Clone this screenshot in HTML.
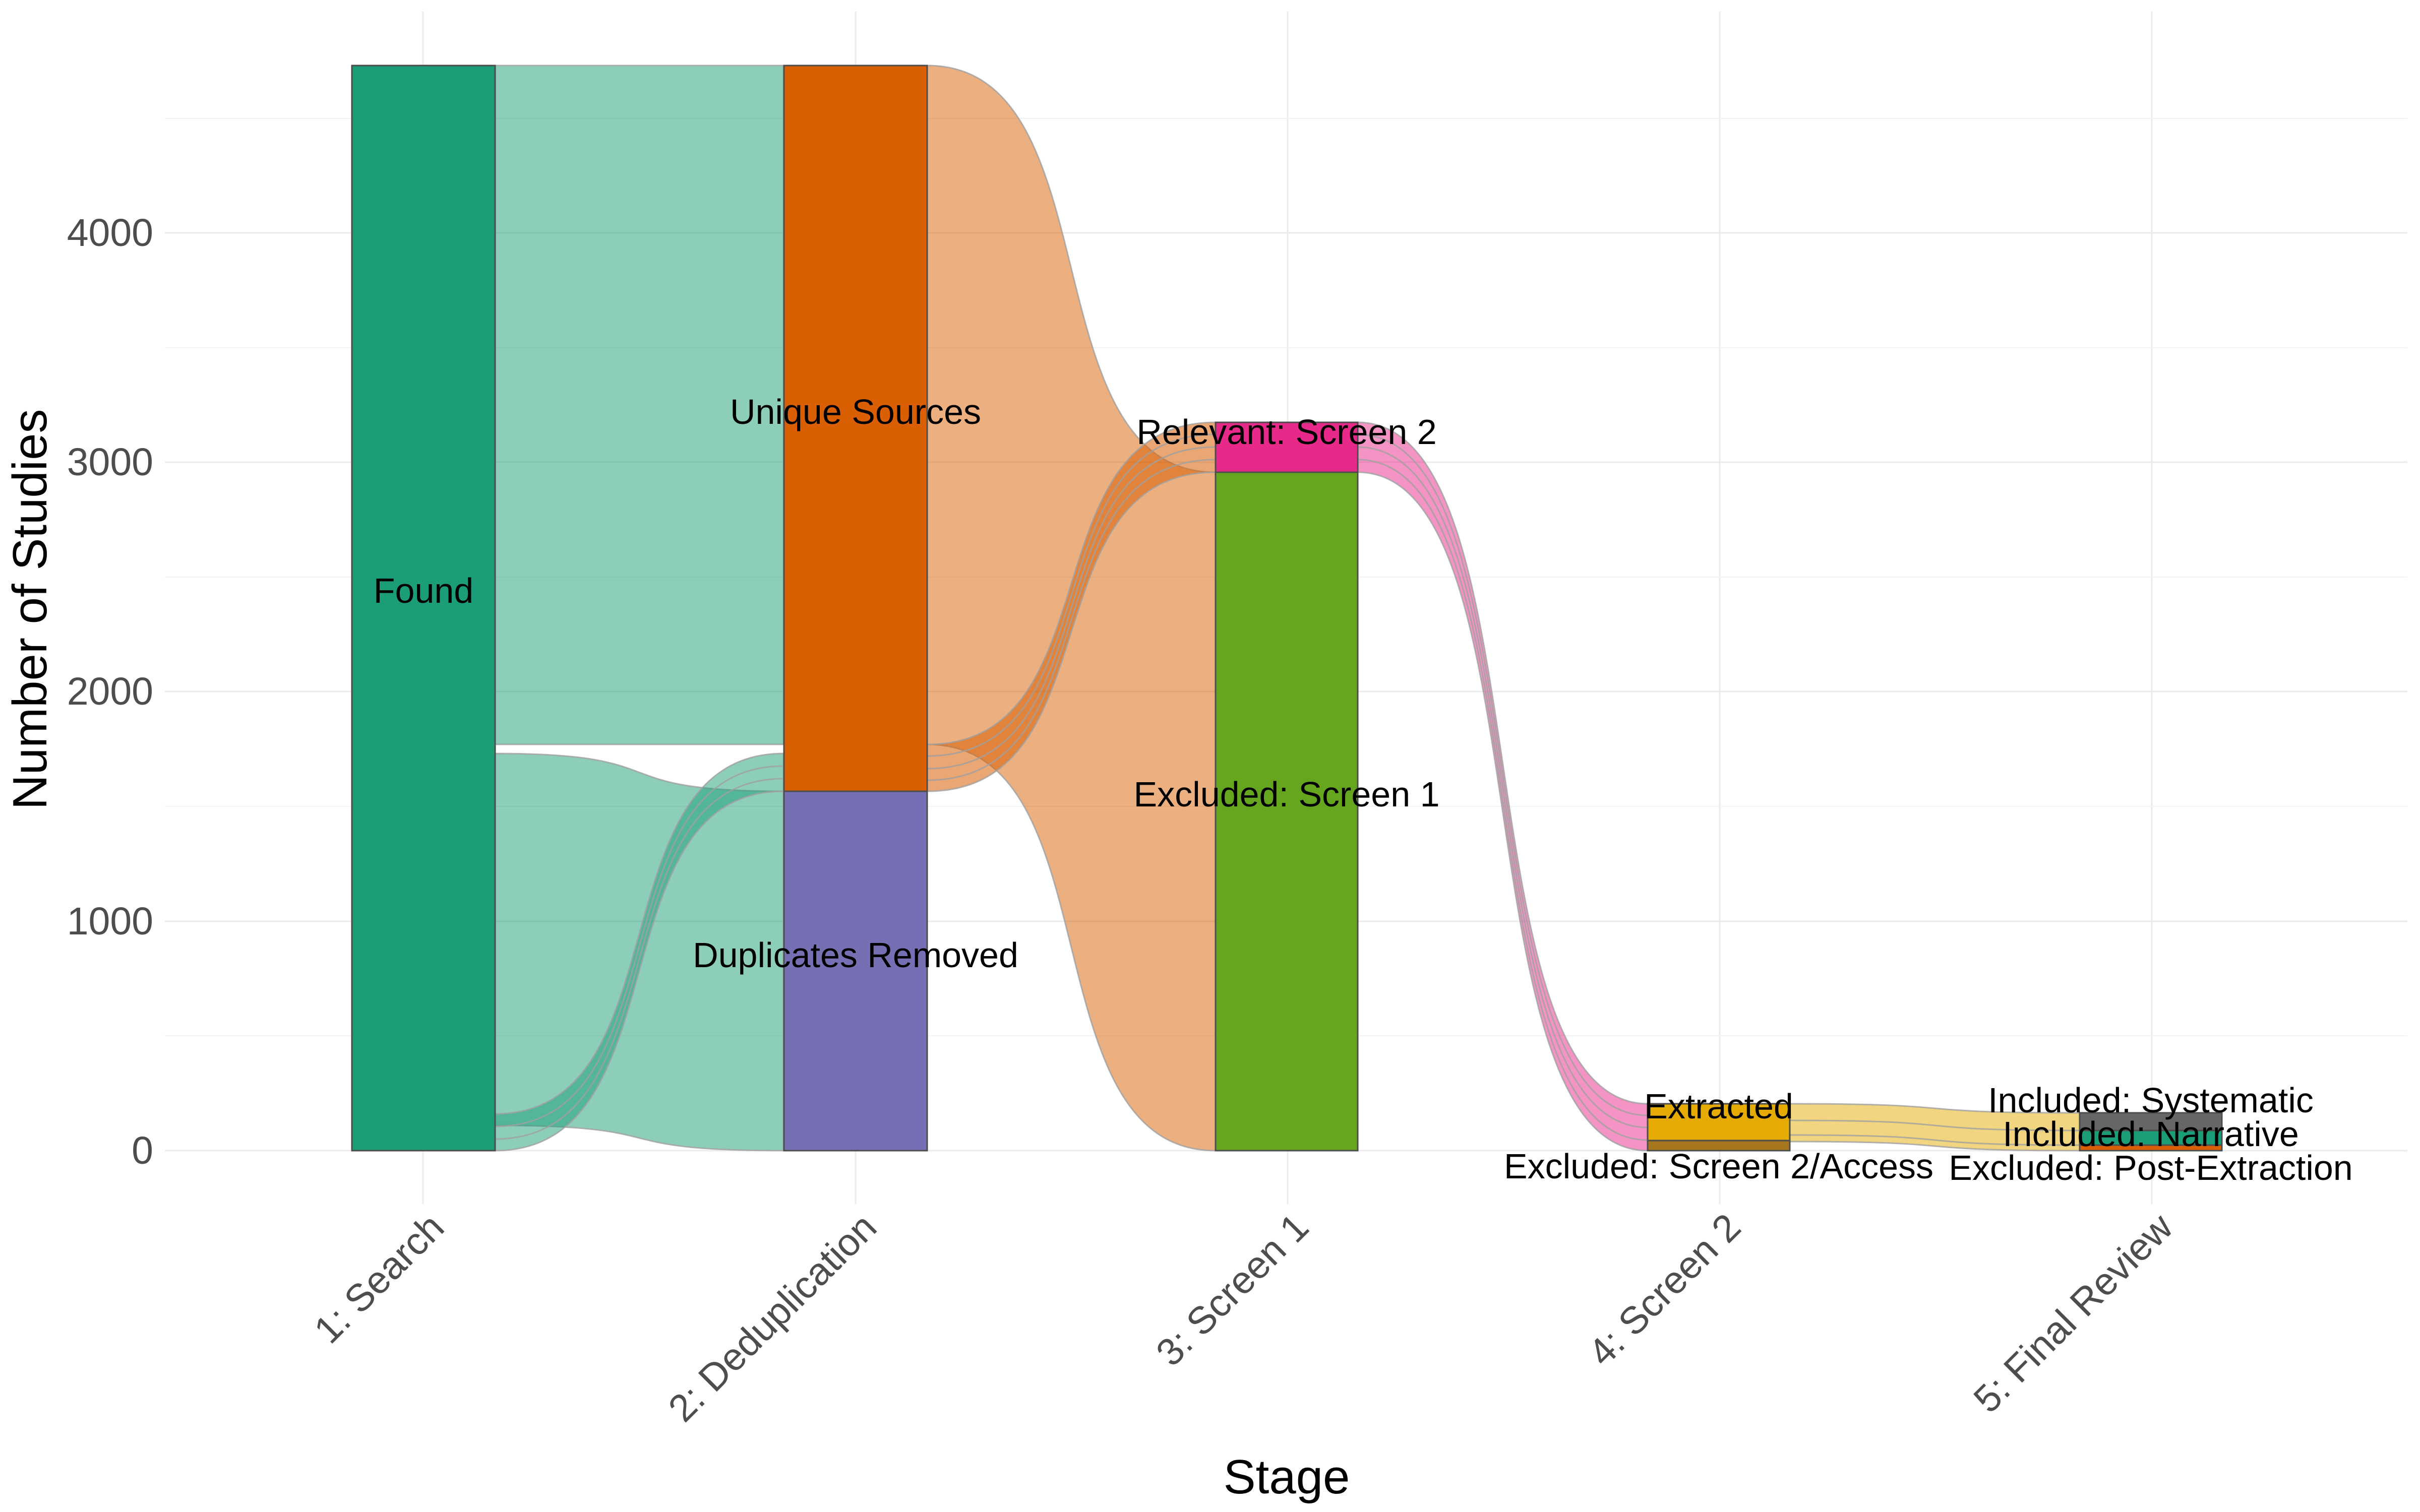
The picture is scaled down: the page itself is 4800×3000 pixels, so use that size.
<!DOCTYPE html>
<html><head><meta charset="utf-8"><style>
html,body{margin:0;padding:0;background:#fff;}
svg{display:block;}
text{font-family:"Liberation Sans",Arial,sans-serif;}
</style></head><body>
<svg width="4800" height="3000" viewBox="0 0 4800 3000" xmlns="http://www.w3.org/2000/svg">
<rect width="4800" height="3000" fill="#fff"/>
<g stroke="#ebebeb" stroke-width="3">
<line x1="327" x2="4775" y1="2283" y2="2283"/>
<line x1="327" x2="4775" y1="1828" y2="1828"/>
<line x1="327" x2="4775" y1="1372" y2="1372"/>
<line x1="327" x2="4775" y1="917" y2="917"/>
<line x1="327" x2="4775" y1="462" y2="462"/>
<line x1="839" x2="839" y1="23" y2="2389"/>
<line x1="1697" x2="1697" y1="23" y2="2389"/>
<line x1="2554" x2="2554" y1="23" y2="2389"/>
<line x1="3411" x2="3411" y1="23" y2="2389"/>
<line x1="4268" x2="4268" y1="23" y2="2389"/>
</g>
<g stroke="#f3f3f3" stroke-width="2">
<line x1="327" x2="4775" y1="2055" y2="2055"/>
<line x1="327" x2="4775" y1="1600" y2="1600"/>
<line x1="327" x2="4775" y1="1145" y2="1145"/>
<line x1="327" x2="4775" y1="690" y2="690"/>
<line x1="327" x2="4775" y1="235" y2="235"/>
</g>
<g stroke="#a0a0a0" stroke-width="3" stroke-opacity="0.8">
<path d="M982,130 L1554,130 L1554,1477 L982,1477 Z" fill="#1B9E77" fill-opacity="0.5"/>
<path d="M982,1495 C1354,1495 1182,1570 1554,1570 L1554,2283 C1182,2283 1354,2233 982,2233 Z" fill="#1B9E77" fill-opacity="0.5"/>
<path d="M982,2210 C1354,2210 1182,1495 1554,1495 L1554,1570 C1182,1570 1354,2283 982,2283 Z" fill="#1B9E77" fill-opacity="0.5"/>
<path d="M982,2235 C1354,2235 1182,1520 1554,1520" fill="none"/>
<path d="M982,2260 C1354,2260 1182,1545 1554,1545" fill="none"/>
<path d="M1839,130 C2211,130 2039,937 2411,937 L2411,2283 C2039,2283 2211,1477 1839,1477 Z" fill="#D95F02" fill-opacity="0.5"/>
<path d="M1839,1477 C2211,1477 2039,838 2411,838 L2411,937 C2039,937 2211,1570 1839,1570 Z" fill="#D95F02" fill-opacity="0.55"/>
<path d="M1839,1500 C2211,1500 2039,862 2411,862" fill="none"/>
<path d="M1839,1525 C2211,1525 2039,887 2411,887" fill="none"/>
<path d="M1839,1548 C2211,1548 2039,912 2411,912" fill="none"/>
<path d="M2693,838 C3066,838 2895,2190 3268,2190 L3268,2283 C2895,2283 3066,937 2693,937 Z" fill="#E7298A" fill-opacity="0.5"/>
<path d="M2693,862 C3066,862 2895,2213 3268,2213" fill="none"/>
<path d="M2693,887 C3066,887 2895,2237 3268,2237" fill="none"/>
<path d="M2693,912 C3066,912 2895,2262 3268,2262" fill="none"/>
<path d="M3550,2190 C3923,2190 3752,2208 4125,2208 L4125,2283 C3752,2283 3923,2265 3550,2265 Z" fill="#E6AB02" fill-opacity="0.5"/>
<path d="M3550,2223 C3923,2223 3752,2243 4125,2243" fill="none"/>
<path d="M3550,2252 C3923,2252 3752,2272 4125,2272" fill="none"/>
</g>
<g stroke="#4d4d4d" stroke-width="3">
<rect x="698" y="130" width="284" height="2153" fill="#1B9E77"/>
<rect x="1555" y="130" width="284" height="1440" fill="#D95F02"/>
<rect x="1555" y="1570" width="284" height="713" fill="#7570B3"/>
<rect x="2411" y="838" width="282" height="99" fill="#E7298A"/>
<rect x="2411" y="937" width="282" height="1346" fill="#66A61E"/>
<rect x="3268" y="2190" width="282" height="73" fill="#E6AB02"/>
<rect x="3268" y="2263" width="282" height="20" fill="#A6761D"/>
<rect x="4125" y="2208" width="282" height="35" fill="#666666"/>
<rect x="4125" y="2243" width="282" height="29" fill="#1B9E77"/>
<rect x="4125" y="2272" width="282" height="11" fill="#D95F02"/>
</g>
<g font-size="70" fill="#000" text-anchor="middle" dominant-baseline="central">
<text x="840" y="1172">Found</text>
<text x="1697" y="817">Unique Sources</text>
<text x="1697" y="1895">Duplicates Removed</text>
<text x="2552" y="857">Relevant: Screen 2</text>
<text x="2552" y="1576">Excluded: Screen 1</text>
<text x="3409" y="2195">Extracted</text>
<text x="3409" y="2314">Excluded: Screen 2/Access</text>
<text x="4266" y="2183">Included: Systematic</text>
<text x="4266" y="2250">Included: Narrative</text>
<text x="4266" y="2317">Excluded: Post-Extraction</text>
</g>
<g font-size="77" fill="#4d4d4d" text-anchor="end" dominant-baseline="central">
<text x="304" y="2283">0</text>
<text x="304" y="1828">1000</text>
<text x="304" y="1372">2000</text>
<text x="304" y="917">3000</text>
<text x="304" y="462">4000</text>
</g>
<g font-size="76" fill="#4d4d4d" text-anchor="end">
<text transform="translate(885,2440) rotate(-45)">1: Search</text>
<text transform="translate(1743,2440) rotate(-45)">2: Deduplication</text>
<text transform="translate(2600,2440) rotate(-45)">3: Screen 1</text>
<text transform="translate(3457,2440) rotate(-45)">4: Screen 2</text>
<text transform="translate(4314,2440) rotate(-45)">5: Final Review</text>
</g>
<text x="2552" y="2963" font-size="96" text-anchor="middle" fill="#000">Stage</text>
<text transform="translate(92,1209) rotate(-90)" font-size="96" text-anchor="middle" fill="#000">Number of Studies</text>
</svg>
</body></html>
